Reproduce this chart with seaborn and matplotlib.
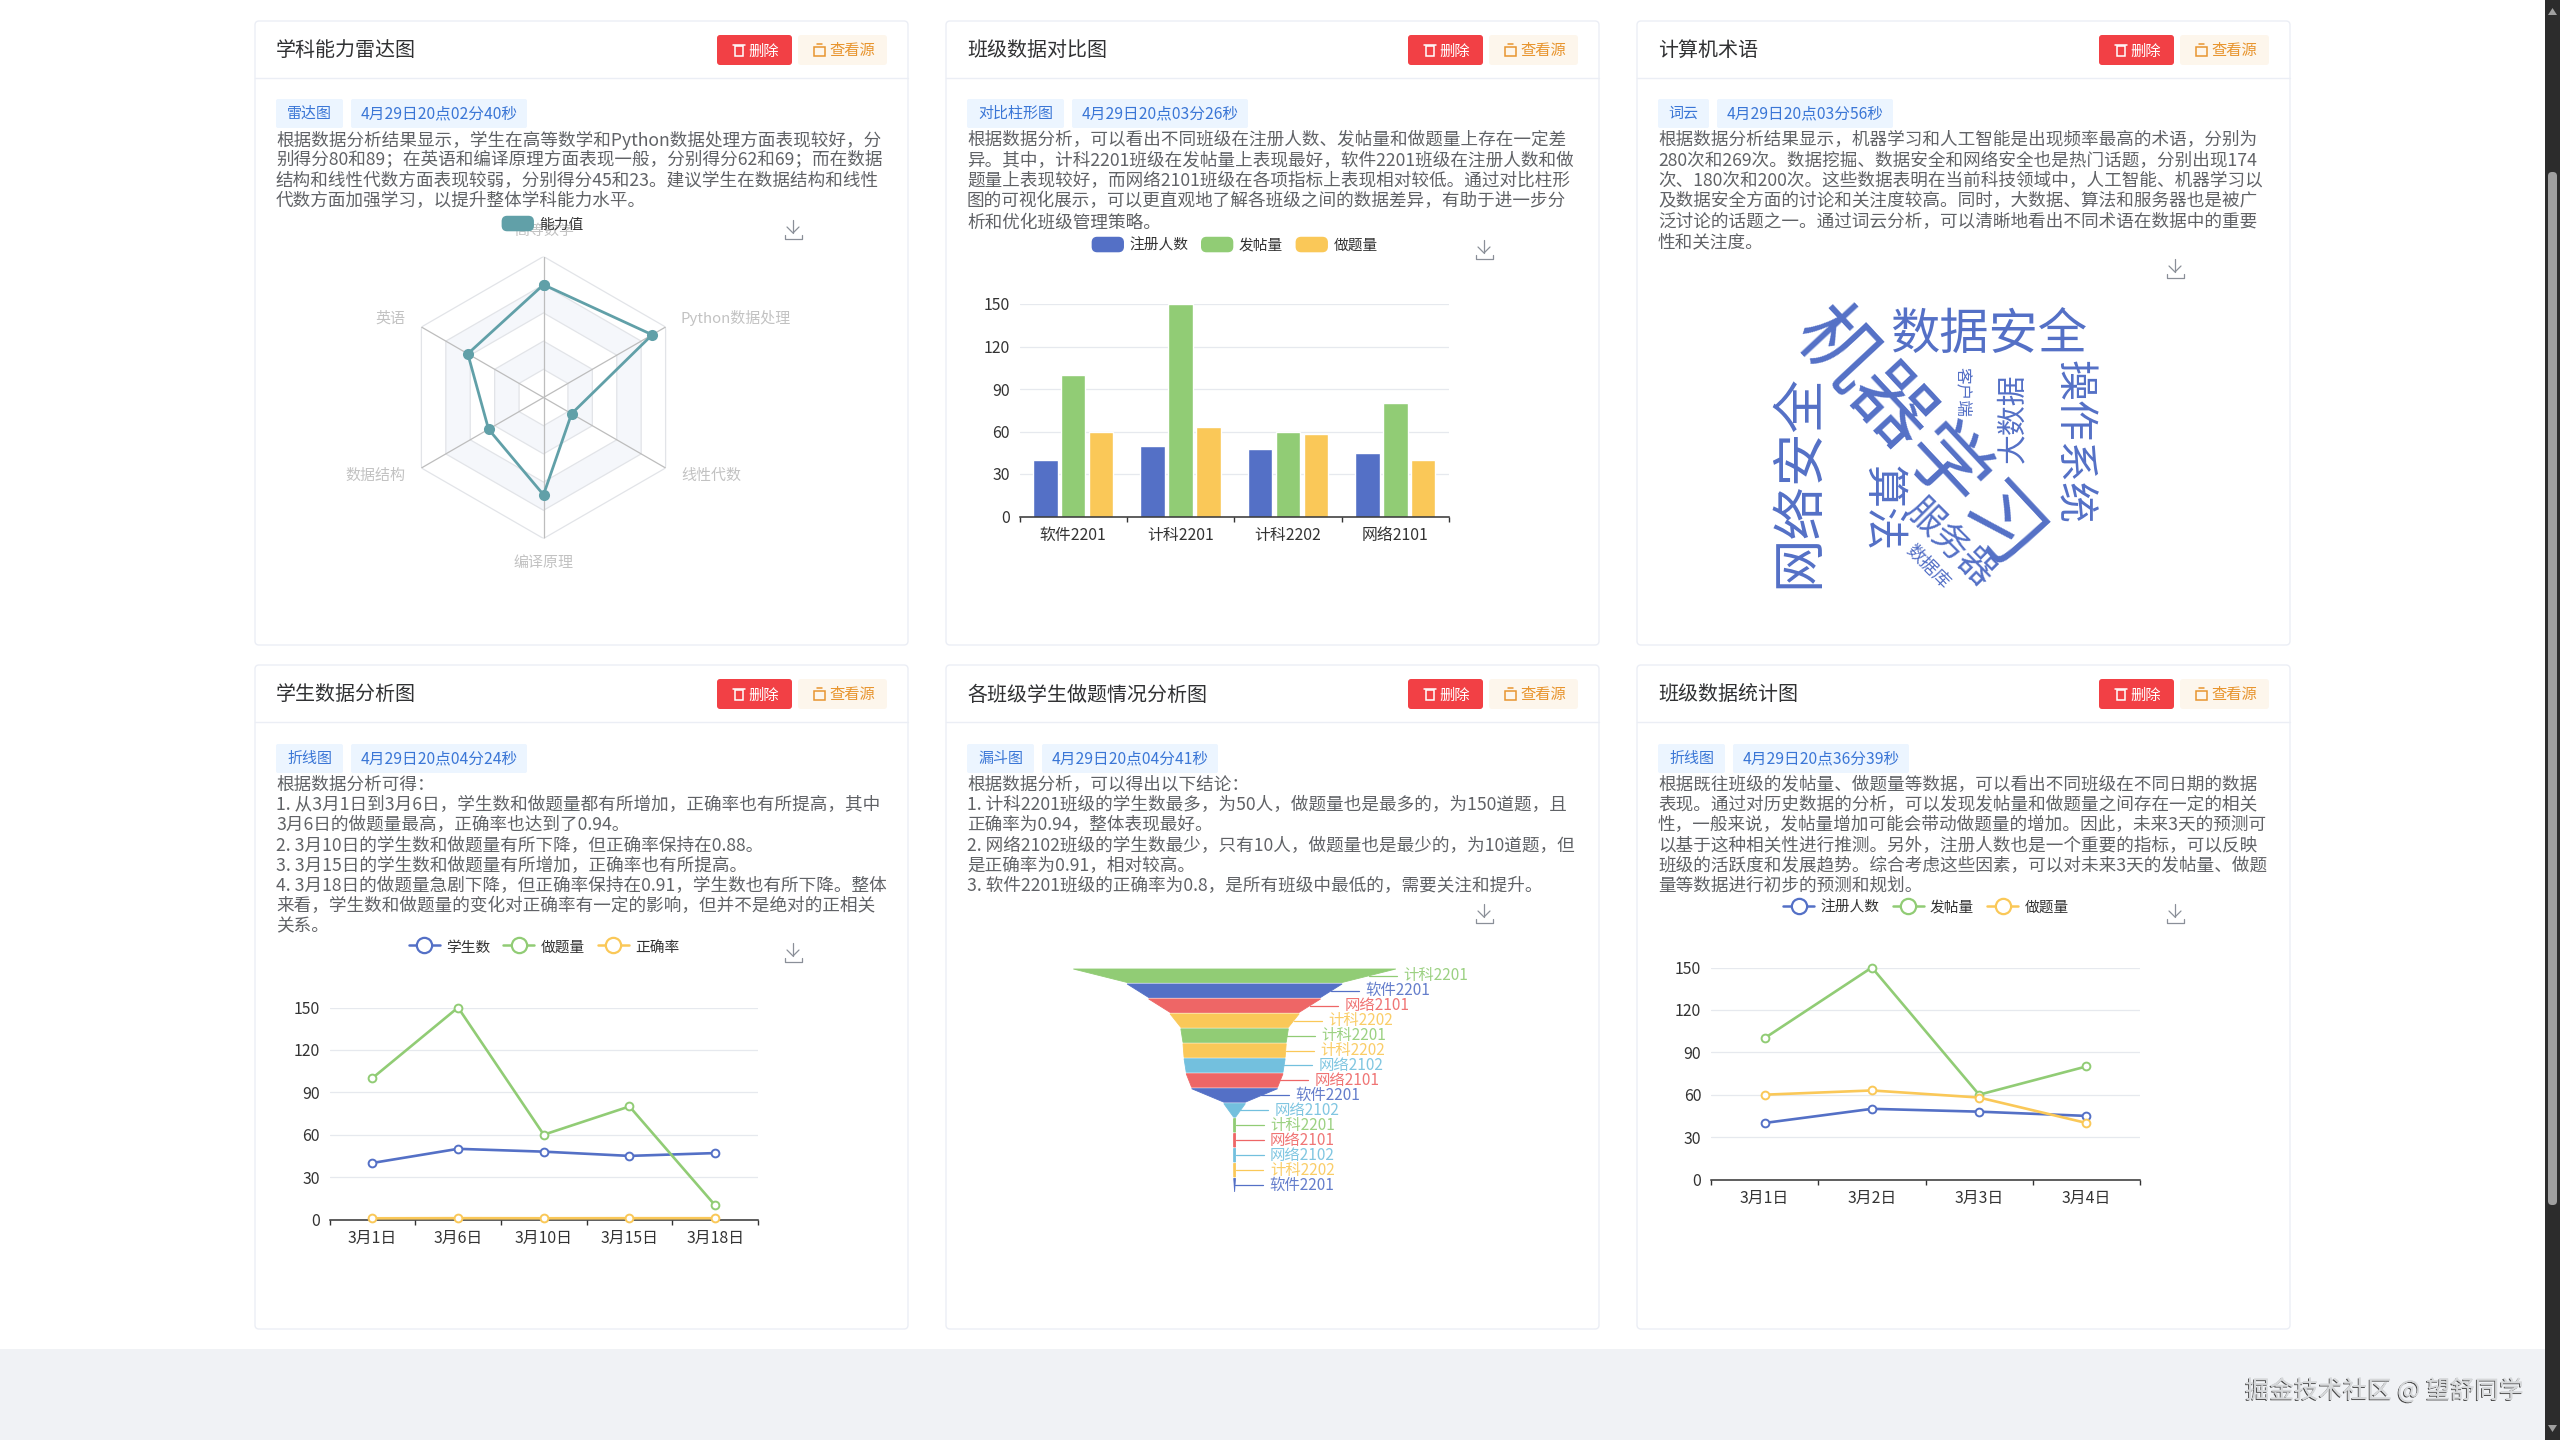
# -*- coding: utf-8 -*-

import numpy as np
import pandas as pd
import seaborn as sns
import matplotlib.pyplot as plt
import matplotlib.patheffects as pe
from matplotlib.legend_handler import HandlerPatch
from matplotlib.lines import Line2D
from matplotlib.patches import FancyBboxPatch, Patch, Polygon, Rectangle

# radar
radar_subjects = ['高等数学', 'Python数据处理', '线性代数', '编译原理', '数据结构', '英语']
radar_scores = [80, 89, 23, 69, 45, 62]

# grouped bars
bar_classes = ['软件2201', '计科2201', '计科2202', '网络2101']
bar_registered = [40, 50, 48, 45]
bar_posts = [100, 150, 60, 80]
bar_exercises = [60, 63, 58, 40]

# student lines
student_dates = ['3月1日', '3月6日', '3月10日', '3月15日', '3月18日']
student_count = [40, 50, 48, 45, 47]
student_exercises = [100, 150, 60, 80, 10]
student_accuracy = [0.85, 0.94, 0.88, 0.92, 0.91]

# class lines
class_dates = ['3月1日', '3月2日', '3月3日', '3月4日']
class_registered = [40, 50, 48, 45]
class_posts = [100, 150, 60, 80]
class_exercises = [60, 63, 58, 40]

# funnel
funnel_labels = ['计科2201', '软件2201', '网络2101', '计科2202', '计科2201',
                 '计科2202', '网络2102', '网络2101', '软件2201', '网络2102',
                 '计科2201', '网络2101', '网络2102', '计科2202', '软件2201']
funnel_values = [150, 100, 80, 60, 50, 48, 47, 45, 40, 10, 0.94, 0.91, 0.9, 0.88, 0.8]

# word cloud
cloud_words = ['机器学习', '网络安全', '数据安全', '操作系统', '算法', '服务器', '大数据', '数据库', '客户端']
cloud_sizes = [58, 38.5, 35.5, 29.5, 31, 26, 21.5, 13, 12]

card_titles = ['学科能力雷达图', '班级数据对比图', '计算机术语',
               '学生数据分析图', '各班级学生做题情况分析图', '班级数据统计图']
card_tags = ['雷达图', '对比柱形图', '词云', '折线图', '漏斗图', '折线图']
card_times = ['4月29日20点02分40秒', '4月29日20点03分26秒', '4月29日20点03分56秒',
              '4月29日20点04分24秒', '4月29日20点04分41秒', '4月29日20点36分39秒']
card_text = [
    ['根据数据分析结果显示，学生在高等数学和Python数据处理方面表现较好，分',
     '别得分80和89；在英语和编译原理方面表现一般，分别得分62和69；而在数据',
     '结构和线性代数方面表现较弱，分别得分45和23。建议学生在数据结构和线性',
     '代数方面加强学习，以提升整体学科能力水平。'],
    ['根据数据分析，可以看出不同班级在注册人数、发帖量和做题量上存在一定差',
     '异。其中，计科2201班级在发帖量上表现最好，软件2201班级在注册人数和做',
     '题量上表现较好，而网络2101班级在各项指标上表现相对较低。通过对比柱形',
     '图的可视化展示，可以更直观地了解各班级之间的数据差异，有助于进一步分',
     '析和优化班级管理策略。'],
    ['根据数据分析结果显示，机器学习和人工智能是出现频率最高的术语，分别为',
     '280次和269次。数据挖掘、数据安全和网络安全也是热门话题，分别出现174',
     '次、180次和200次。这些数据表明在当前科技领域中，人工智能、机器学习以',
     '及数据安全方面的讨论和关注度较高。同时，大数据、算法和服务器也是被广',
     '泛讨论的话题之一。通过词云分析，可以清晰地看出不同术语在数据中的重要',
     '性和关注度。'],
    ['根据数据分析可得：',
     '1. 从3月1日到3月6日，学生数和做题量都有所增加，正确率也有所提高，其中',
     '3月6日的做题量最高，正确率也达到了0.94。',
     '2. 3月10日的学生数和做题量有所下降，但正确率保持在0.88。',
     '3. 3月15日的学生数和做题量有所增加，正确率也有所提高。',
     '4. 3月18日的做题量急剧下降，但正确率保持在0.91，学生数也有所下降。整体',
     '来看，学生数和做题量的变化对正确率有一定的影响，但并不是绝对的正相关',
     '关系。'],
    ['根据数据分析，可以得出以下结论：',
     '1. 计科2201班级的学生数最多，为50人，做题量也是最多的，为150道题，且',
     '正确率为0.94，整体表现最好。',
     '2. 网络2102班级的学生数最少，只有10人，做题量也是最少的，为10道题，但',
     '是正确率为0.91，相对较高。',
     '3. 软件2201班级的正确率为0.8，是所有班级中最低的，需要关注和提升。'],
    ['根据既往班级的发帖量、做题量等数据，可以看出不同班级在不同日期的数据',
     '表现。通过对历史数据的分析，可以发现发帖量和做题量之间存在一定的相关',
     '性，一般来说，发帖量增加可能会带动做题量的增加。因此，未来3天的预测可',
     '以基于这种相关性进行推测。另外，注册人数也是一个重要的指标，可以反映',
     '班级的活跃度和发展趋势。综合考虑这些因素，可以对未来3天的发帖量、做题',
     '量等数据进行初步的预测和规划。'],
]

BLUE, GREEN, YELLOW, RED, CYAN = '#5470c6', '#91cc75', '#fac858', '#ee6666', '#73c0de'
TEAL = '#61a0a8'
class_colors = {'软件2201': BLUE, '计科2201': GREEN, '计科2202': YELLOW,
                '网络2101': RED, '网络2102': CYAN}

W, H = 2560, 1440
sns.set_theme(style='white')
plt.rcParams['font.family'] = ['Noto Sans CJK SC', 'DejaVu Sans']

fig = plt.figure(figsize=(W / 100, H / 100), dpi=100, facecolor='white')

# page chrome is drawn in pixel coordinates
page = fig.add_axes([0, 0, 1, 1], zorder=0)
page.set_xlim(0, W)
page.set_ylim(H, 0)
page.axis('off')


def px_axes(left, top, right, bottom, **kw):
    return fig.add_axes([left / W, 1 - bottom / H, (right - left) / W, (bottom - top) / H],
                        zorder=2, facecolor='none', **kw)


def rounded(x0, y0, x1, y1, radius=3, **kw):
    page.add_patch(FancyBboxPatch((x0, y0), x1 - x0, y1 - y0,
                                  boxstyle=f'round,pad=0,rounding_size={radius}', **kw))


def download_icon(x, y):
    c = '#8a8f98'
    page.plot([x, x], [y - 10, y + 3], color=c, lw=0.9)
    page.plot([x - 6, x, x + 6], [y - 3, y + 3, y - 3], color=c, lw=0.9)
    page.plot([x - 8.5, x - 8.5, x + 8.5, x + 8.5], [y + 5, y + 9, y + 9, y + 5], color=c, lw=0.9)


def draw_card(i, left, top, bottom):
    right = left + 653
    row2 = top > 100
    nudge = 1 if row2 else 0
    rounded(left, top, right, bottom, radius=4, fc='white', ec='#ebeef5', lw=1)
    head = top + 57
    page.plot([left, right], [head, head], color='#ebeef5', lw=1)
    page.text(left + 21, top + 29 + nudge, card_titles[i], fontsize=14.4, color='#303133', va='center')
    by0, by1 = top + 14, top + 44
    rounded(left + 462, by0, left + 537, by1, fc='#f24045', ec='none')
    rounded(left + 543, by0, left + 632, by1, fc='#fdf6ec', ec='none')
    cy = top + 29
    page.add_patch(Rectangle((left + 480, cy - 4), 8, 10, fc='none', ec='white', lw=1.1))
    page.plot([left + 478, left + 490], [cy - 5, cy - 5], color='white', lw=1.1)
    page.text(left + 509, cy + 1, '删除', fontsize=11, color='white', ha='center', va='center')
    page.add_patch(Rectangle((left + 559, cy - 3), 11, 9, fc='none', ec='#e8952f', lw=1.1))
    page.plot([left + 562, left + 567], [cy - 6, cy - 6], color='#e8952f', lw=1.1)
    page.text(left + 597, cy + 1, '查看源', fontsize=11, color='#e8952f', ha='center', va='center')
    # tags
    ty0 = top + 78 + nudge
    tag_w = {1: 97, 2: 51}.get(i, 67)
    rounded(left + 21, ty0, left + 21 + tag_w, ty0 + 29, fc='#ecf5ff', ec='none', radius=2)
    page.text(left + 21 + tag_w / 2, ty0 + 14.5, card_tags[i], fontsize=10.8, color='#3a76d6',
              ha='center', va='center')
    dx = left + 21 + tag_w + 8
    rounded(dx, ty0, dx + 176, ty0 + 29, fc='#ecf5ff', ec='none', radius=2)
    page.text(dx + 88, ty0 + 14.5, card_times[i], fontsize=11.3, color='#3a76d6',
              ha='center', va='center')
    # body lines
    y0 = top + 119 + nudge
    step = 20.2 if row2 else 20.5
    for k, line in enumerate(card_text[i]):
        page.text(left + 21, y0 + k * step, line, fontsize=12.66, color='#606266', va='center')


card_lefts = [255, 946, 1637]
for n in range(6):
    if n < 3:
        draw_card(n, card_lefts[n], 21, 645)
    else:
        draw_card(n, card_lefts[n - 3], 665, 1329)

for x, y in [(793, 230), (1484, 250), (2175, 269), (793, 953), (1484, 914), (2175, 914)]:
    download_icon(x, y)

# footer + scrollbar
page.add_patch(Rectangle((0, 1349), 2545, 91, fc='#f0f2f5', ec='none'))
page.text(2523, 1391, '掘金技术社区 @ 望舒同学', fontsize=17.6, color='#d6d8da', ha='right', va='center',
          path_effects=[pe.withSimplePatchShadow(offset=(-0.7, -0.7), shadow_rgbFace='#4a4a4a', alpha=1.0),
                        pe.Normal()])
page.add_patch(Rectangle((2545, 0), 15, H, fc='#2c2c2c', ec='none'))
rounded(2548, 172, 2557, 1205, radius=4, fc='#9f9f9f', ec='none')
page.add_patch(Polygon([[2548, 15], [2557, 15], [2552.5, 8]], fc='#9f9f9f', ec='none'))
page.add_patch(Polygon([[2548, 1425], [2557, 1425], [2552.5, 1432]], fc='#9f9f9f', ec='none'))


def round_handle(legend, orig_handle, xdescent, ydescent, width, height, fontsize):
    return FancyBboxPatch((-xdescent, -ydescent), width, height,
                          boxstyle='round,pad=0,rounding_size=3.5')


def top_legend(ax, handles, labels, cx, cy, rounded_patch=False):
    kw = {'handler_map': {Patch: HandlerPatch(patch_func=round_handle)}} if rounded_patch else {}
    ax.legend(handles, labels, loc='center', bbox_to_anchor=(cx / W, 1 - cy / H),
              bbox_transform=fig.transFigure, ncols=len(labels), frameon=False, fontsize=10.6,
              handlelength=2.1, handleheight=1.1, handletextpad=0.42, columnspacing=0.9,
              labelcolor='#333333', borderpad=0, borderaxespad=0, **kw)


def style_cartesian(ax, n):
    ax.set_xlim(-0.5, n - 0.5)
    ax.set_ylim(0, 150)
    ax.set_yticks(range(0, 151, 30))
    ax.set_xticks(range(n))
    ax.set_xticks(np.arange(n + 1) - 0.5, minor=True)
    ax.tick_params(axis='x', which='major', length=0, pad=7.5, labelsize=11.4, labelcolor='#333333')
    ax.tick_params(axis='x', which='minor', length=3.6, width=1, color='#333333', bottom=True)
    ax.tick_params(axis='y', length=0, pad=7, labelsize=11.4, labelcolor='#333333')
    ax.grid(axis='y', color='#e6e9ee', lw=0.9)
    ax.set_axisbelow(True)
    ax.set_xlabel('')
    ax.set_ylabel('')
    sns.despine(ax=ax, left=True)
    ax.spines['bottom'].set_color('#333333')
    ax.spines['bottom'].set_linewidth(1.1)


# radar panel
page.text(544, 231, radar_subjects[0], fontsize=10.8, color='#c2c2c2', ha='center', va='center')
page.text(681, 318, radar_subjects[1], fontsize=10.8, color='#c2c2c2', ha='left', va='center')
page.text(681, 476, radar_subjects[2], fontsize=10.8, color='#c2c2c2', ha='left', va='center')
page.text(543.5, 563, radar_subjects[3], fontsize=10.8, color='#c2c2c2', ha='center', va='center')
page.text(405, 476, radar_subjects[4], fontsize=10.8, color='#c2c2c2', ha='right', va='center')
page.text(405, 318, radar_subjects[5], fontsize=10.8, color='#c2c2c2', ha='right', va='center')

ax = px_axes(543.5 - 141, 397.5 - 141, 543.5 + 141, 397.5 + 141, projection='polar')
ax.set_theta_zero_location('N')
ax.set_theta_direction(-1)
theta = np.arange(len(radar_subjects)) * 2 * np.pi / len(radar_subjects)
for level, band in zip([100, 80, 60, 40, 20], ['white', '#f5f7fb', 'white', '#f5f7fb', 'white']):
    ax.fill(theta, [level] * len(theta), facecolor=band, edgecolor='#e2e4e8', lw=0.9, zorder=1)
for t in theta:
    ax.plot([t, t], [0, 100], color='#bdbdbd', lw=0.9, zorder=1.5)
radar_df = pd.DataFrame({'theta': np.append(theta, 2 * np.pi),
                         'score': radar_scores + radar_scores[:1]})
sns.lineplot(data=radar_df, x='theta', y='score', sort=False, errorbar=None, color=TEAL,
             lw=2.0, marker='o', ms=8, mec=TEAL, mew=0, zorder=3, ax=ax)
ax.set_ylim(0, 100)
ax.set_axis_off()
top_legend(ax, [Patch(color=TEAL)], ['能力值'], 543, 224, rounded_patch=True)

# bar panel
bar_names = ['注册人数', '发帖量', '做题量']
bar_df = pd.DataFrame({'班级': bar_classes, bar_names[0]: bar_registered,
                       bar_names[1]: bar_posts, bar_names[2]: bar_exercises})
bar_df = bar_df.melt(id_vars='班级', var_name='指标', value_name='数量')
ax = px_axes(1019.5, 304, 1449, 516.5)
sns.barplot(data=bar_df, x='班级', y='数量', hue='指标', palette=[BLUE, GREEN, YELLOW], saturation=1.0,
            width=0.78, gap=0.123, legend=False, ax=ax)
style_cartesian(ax, len(bar_classes))
top_legend(ax, [Patch(color=c) for c in [BLUE, GREEN, YELLOW]], bar_names, 1235, 245, rounded_patch=True)


def line_panel(box, dates, series, names, legend_pos):
    df = pd.DataFrame({'日期': dates})
    for name, vals in zip(names, series):
        df[name] = vals
    df = df.melt(id_vars='日期', var_name='指标', value_name='数量')
    colors = [BLUE, GREEN, YELLOW]
    ax = px_axes(*box)
    sns.lineplot(data=df, x='日期', y='数量', hue='指标', palette=colors, sort=False, errorbar=None,
                 marker='o', ms=5.6, lw=1.9, legend=False, zorder=3, clip_on=False, ax=ax)
    for line, c in zip(ax.get_lines(), colors):
        line.set_markerfacecolor('white')
        line.set_markeredgecolor(c)
        line.set_markeredgewidth(1.4)
    style_cartesian(ax, len(dates))
    handles = [Line2D([], [], color=c, lw=1.8, marker='o', ms=11, mfc='white', mec=c, mew=1.6)
               for c in colors]
    top_legend(ax, handles, names, *legend_pos)


line_panel((329.5, 1007.5, 758, 1219.5), student_dates,
           [student_count, student_exercises, student_accuracy],
           ['学生数', '做题量', '正确率'], (544, 947))
line_panel((1711, 967.5, 2140, 1179.5), class_dates,
           [class_registered, class_posts, class_exercises],
           ['注册人数', '发帖量', '做题量'], (1926, 907))

# funnel panel
ax = px_axes(1234.6 - 161.25, 969, 1234.6 + 161.25, 969 + 14.96 * len(funnel_values))
for i, (name, v) in enumerate(zip(funnel_labels, funnel_values)):
    nxt = funnel_values[i + 1] if i + 1 < len(funnel_values) else 0
    c = class_colors[name]
    ax.fill([-v / 2, v / 2, nxt / 2, -nxt / 2], [i, i, i + 0.9, i + 0.9], color=c, lw=0.6, clip_on=False)
    edge = (v + nxt) / 4
    ax.plot([edge, edge + 13], [i + 0.45, i + 0.45], color=c, lw=0.9, clip_on=False)
    ax.text(edge + 16, i + 0.45, name, color=c, fontsize=11.1, va='center', ha='left', alpha=0.9)
ax.set_xlim(-75, 75)
ax.set_ylim(len(funnel_values), 0)
ax.axis('off')

# word cloud, laid out by hand like the picture
cloud_layout = [(1918, 439, -47), (1799, 481, 90), (1989, 335, 0), (2073, 442, -90), (1882, 508, -90),
                (1950, 544, -45), (2013, 418, 90), (1928, 567, -45), (1963, 392, -90)]
for word, size, (x, y, rot) in zip(cloud_words, cloud_sizes, cloud_layout):
    page.text(x, y, word, fontsize=size, color=BLUE, rotation=rot, rotation_mode='anchor',
              ha='center', va='center')

plt.savefig('out.png', dpi=100)
